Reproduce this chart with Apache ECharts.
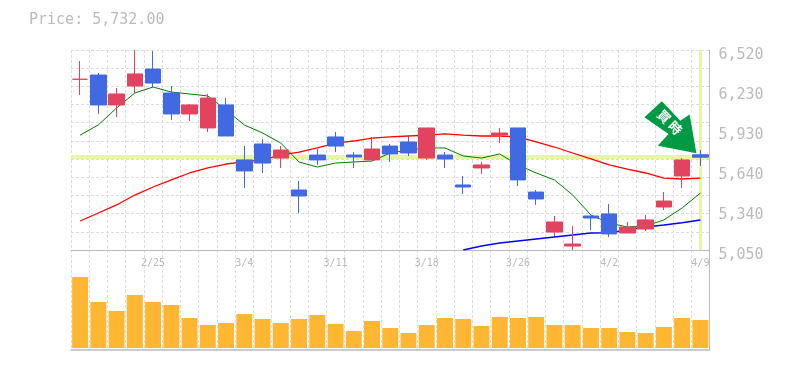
<!DOCTYPE html>
<html><head><meta charset="utf-8">
<style>html,body{margin:0;padding:0;background:#fff}#c{width:785px;height:370px}</style>
<script src="https://cdn.jsdelivr.net/npm/echarts@6/dist/echarts.min.js"></script>
</head><body><div id="c"></div>
<script>
const dates = ['2/19','2/20','2/21','2/22','2/25','2/26','2/27','2/28','3/1','3/4','3/5','3/6','3/7','3/8','3/11','3/12','3/13','3/14','3/15','3/18','3/19','3/20','3/22','3/25','3/26','3/27','3/28','3/29','4/1','4/2','4/3','4/4','4/5','4/8','4/9'];
const tickLabels = ['5,050','5,340','5,640','5,930','6,230','6,520'];
const lastPrice = 5732;
const titleText = 'Price: 5,732.00';
// [open, close, low, high]
const candles = [
 [6305,6305,6189,6439],[6336,6116,6050,6351],[6116,6197,6028,6241],[6255,6344,6204,6520],[6380,6277,6248,6513],
 [6204,6050,6006,6255],[6050,6116,5998,6123],[5947,6167,5917,6197],[6116,5888,5888,6167],[5712,5631,5506,5814],
 [5829,5689,5616,5866],[5726,5785,5653,5814],[5491,5447,5322,5557],[5748,5712,5675,5792],[5881,5814,5770,5917],
 [5748,5734,5653,5770],[5712,5792,5712,5881],[5814,5756,5697,5829],[5844,5763,5741,5895],[5726,5947,5712,5947],
 [5748,5719,5653,5770],[5528,5513,5462,5594],[5653,5675,5609,5697],[5895,5910,5836,5947],[5947,5565,5520,5947],
 [5476,5425,5381,5491],[5182,5256,5153,5300],[5079,5094,5050,5226],[5300,5285,5197,5300],[5315,5168,5146,5388],
 [5175,5219,5175,5256],[5204,5271,5190,5307],[5366,5410,5344,5476],[5594,5712,5506,5726],[5750,5732,5667,5785]
];
const maShort = [5895,5969,6094,6204,6248,6211,6197,6182,6079,5969,5910,5836,5697,5660,5689,5697,5704,5763,5785,5800,5800,5741,5726,5756,5675,5616,5565,5454,5307,5248,5219,5226,5271,5359,5469];
const maMid = [5263,5322,5381,5454,5513,5565,5616,5653,5682,5697,5712,5748,5770,5800,5836,5851,5873,5881,5888,5895,5903,5895,5888,5888,5881,5844,5807,5763,5719,5675,5645,5616,5579,5572,5579];
const maLong = [null,null,null,null,null,null,null,null,null,null,null,null,null,null,null,null,null,null,null,null,null,5050,5079,5101,5116,5131,5146,5160,5175,5177,5197,5219,5234,5251,5271];
const volumes = [71,46,37,53,46,43,30,23,25,34,29,25,29,33,24,17,27,20,15,23,30,29,22,31,30,31,23,23,20,20,16,15,21,30,28];

const MONO = '"DejaVu Sans Mono", monospace';
const grey = '#bbbbbb', gridC = '#dddddd', hl = '#e6f5a8';
const dash = {show:true, lineStyle:{color:gridC, type:[3,2], width:1}};
const arrowPath = 'path://M0.3 16L17.7 0L36 19.3L45.3 13.3L52 51.6L13.7 44.3L24.3 32.6Z';

const chart = echarts.init(document.getElementById('c'), null, {renderer:'canvas'});
chart.setOption({
  animation:false,
  backgroundColor:'#fff',
  title:{text:titleText, left:24, top:8, textStyle:{fontFamily:MONO, fontSize:15, fontWeight:'normal', color:grey}},
  grid:[{left:71, top:50, width:638.5, height:200},{left:71, top:250, width:638.5, height:100}],
  xAxis:[
    {type:'category', gridIndex:0, data:dates, boundaryGap:true,
     axisLine:{show:true, lineStyle:{color:grey, width:1}}, axisTick:{show:false},
     axisLabel:{interval:(i)=>i%5===4, color:grey, fontFamily:MONO, fontSize:10, margin:8},
     splitLine:Object.assign({interval:0}, dash)},
    {type:'category', gridIndex:1, data:dates, boundaryGap:true,
     axisLine:{show:true, onZero:false, lineStyle:{color:grey, width:1.5}}, axisTick:{show:false}, axisLabel:{show:false},
     splitLine:Object.assign({interval:0}, dash)}
  ],
  yAxis:[
    {type:'value', gridIndex:0, min:5050, max:6520, show:false, splitLine:{show:false}},
    {type:'value', gridIndex:0, min:0, max:11, interval:1, position:'left',
     axisLine:{show:false}, axisTick:{show:false}, axisLabel:{show:false}, splitLine:dash},
    {type:'value', gridIndex:0, min:0, max:5, interval:1, position:'right',
     axisLine:{show:true, lineStyle:{color:grey, width:1}}, axisTick:{show:false}, splitLine:{show:false},
     axisLabel:{color:grey, fontFamily:MONO, fontSize:15, margin:9, padding:[5,0,0,0], verticalAlign:'top', lineHeight:0, formatter:(v)=>tickLabels[v]}},
    {type:'value', gridIndex:1, min:-2, max:98, position:'right',
     axisLine:{show:true, lineStyle:{color:grey, width:1}}, axisTick:{show:false}, axisLabel:{show:false}, splitLine:{show:false}}
  ],
  series:[
    {type:'line', xAxisIndex:0, yAxisIndex:0, data:[], silent:true, z:1,
     markLine:{silent:true, symbol:'none', z:1, animation:false, label:{show:false},
       lineStyle:{color:hl, type:'solid'},
       data:[{yAxis:lastPrice, lineStyle:{width:4, color:hl}},{xAxis:dates[dates.length-1], lineStyle:{width:3, color:hl}}]}},
    {type:'line', name:'short', xAxisIndex:0, yAxisIndex:0, data:maShort, symbol:'none', z:2, lineStyle:{color:'#008000', width:1}},
    {type:'line', name:'mid', xAxisIndex:0, yAxisIndex:0, data:maMid, symbol:'none', z:2, lineStyle:{color:'#ff0000', width:1.3}},
    {type:'line', name:'long', xAxisIndex:0, yAxisIndex:0, data:maLong, symbol:'none', z:2, lineStyle:{color:'#0000ff', width:1.5}},
    {type:'candlestick', xAxisIndex:0, yAxisIndex:0, data:candles, barWidth:16, z:3,
     itemStyle:{color:'#e2445f', color0:'#4169e1', borderColor:'#e2445f', borderColor0:'#4169e1', borderColorDoji:'#e2445f', borderWidth:1},
     markPoint:{silent:true, z:6, animation:false, symbol:arrowPath, symbolSize:[52,52], symbolOffset:[-30,-30],
       itemStyle:{color:'#009944'},
       label:{show:true, position:'inside', formatter:'買 時', rotate:-45, offset:[-4,-3], color:'#fff',
              fontFamily:'"Noto Sans CJK JP"', fontWeight:'bold', fontSize:13},
       data:[{coord:[dates[dates.length-1], lastPrice]}]}},
    {type:'bar', xAxisIndex:1, yAxisIndex:3, data:volumes, barWidth:16, itemStyle:{color:'#ffb733'}, z:2}
  ]
});
</script></body></html>
